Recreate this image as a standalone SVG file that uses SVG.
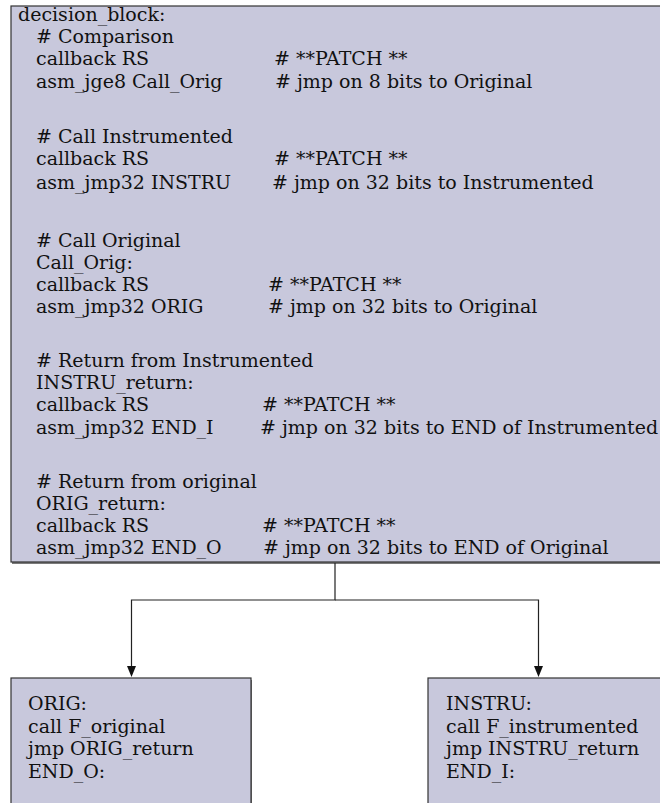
<svg xmlns="http://www.w3.org/2000/svg" width="660" height="803" viewBox="0 0 660 803">
<defs>
<style>
.box{fill:#c8c8dc;stroke:#333;stroke-width:1.2}
.shadow{fill:#7a7a7a}
.t{font-family:"DejaVu Serif","Liberation Serif",serif;font-size:19px;fill:#111}
.edge{fill:none;stroke:#222;stroke-width:1.2}
</style>
</defs>
<rect width="660" height="803" fill="#ffffff"/>
<g id="decision_block">
<rect x="12" y="8" width="660" height="556" class="shadow"/>
<rect x="11" y="6" width="660" height="556" class="box"/>
<text class="t" x="18" y="21">decision_block:</text>
<text class="t" x="36" y="43"># Comparison</text>
<text class="t" x="36" y="65">callback RS</text>
<text class="t" x="274" y="65"># **PATCH **</text>
<text class="t" x="36" y="88">asm_jge8 Call_Orig</text>
<text class="t" x="275" y="88"># jmp on 8 bits to Original</text>
<text class="t" x="36" y="143"># Call Instrumented</text>
<text class="t" x="36" y="165">callback RS</text>
<text class="t" x="274" y="165"># **PATCH **</text>
<text class="t" x="36" y="189">asm_jmp32 INSTRU</text>
<text class="t" x="272" y="189"># jmp on 32 bits to Instrumented</text>
<text class="t" x="36" y="247"># Call Original</text>
<text class="t" x="36" y="269">Call_Orig:</text>
<text class="t" x="36" y="291">callback RS</text>
<text class="t" x="268" y="291"># **PATCH **</text>
<text class="t" x="36" y="313">asm_jmp32 ORIG</text>
<text class="t" x="268" y="313"># jmp on 32 bits to Original</text>
<text class="t" x="36" y="367"># Return from Instrumented</text>
<text class="t" x="36" y="389">INSTRU_return:</text>
<text class="t" x="36" y="411">callback RS</text>
<text class="t" x="262" y="411"># **PATCH **</text>
<text class="t" x="36" y="434">asm_jmp32 END_I</text>
<text class="t" x="260" y="434"># jmp on 32 bits to END of Instrumented</text>
<text class="t" x="36" y="488"># Return from original</text>
<text class="t" x="36" y="510">ORIG_return:</text>
<text class="t" x="36" y="532">callback RS</text>
<text class="t" x="262" y="532"># **PATCH **</text>
<text class="t" x="36" y="554">asm_jmp32 END_O</text>
<text class="t" x="263" y="554"># jmp on 32 bits to END of Original</text>
</g>
<g id="orig">
<rect x="12" y="680" width="240" height="140" class="shadow"/>
<rect x="11" y="678" width="240" height="140" class="box"/>
<text class="t" x="28" y="710">ORIG:</text>
<text class="t" x="28" y="732.5">call F_original</text>
<text class="t" x="28" y="755">jmp ORIG_return</text>
<text class="t" x="28" y="777.5">END_O:</text>
</g>
<g id="instru">
<rect x="429" y="680" width="240" height="140" class="shadow"/>
<rect x="428" y="678" width="240" height="140" class="box"/>
<text class="t" x="446" y="710">INSTRU:</text>
<text class="t" x="446" y="732.5">call F_instrumented</text>
<text class="t" x="446" y="755">jmp INSTRU_return</text>
<text class="t" x="446" y="777.5">END_I:</text>
</g>
<g id="connectors">
<path class="edge" d="M335,563 V600 H131.5 V666"/>
<path class="edge" d="M335,600 H538.5 V666"/>
<path d="M127,666 L136,666 L131.5,677 Z" fill="#111"/>
<path d="M534,666 L543,666 L538.5,677 Z" fill="#111"/>
</g>
</svg>
